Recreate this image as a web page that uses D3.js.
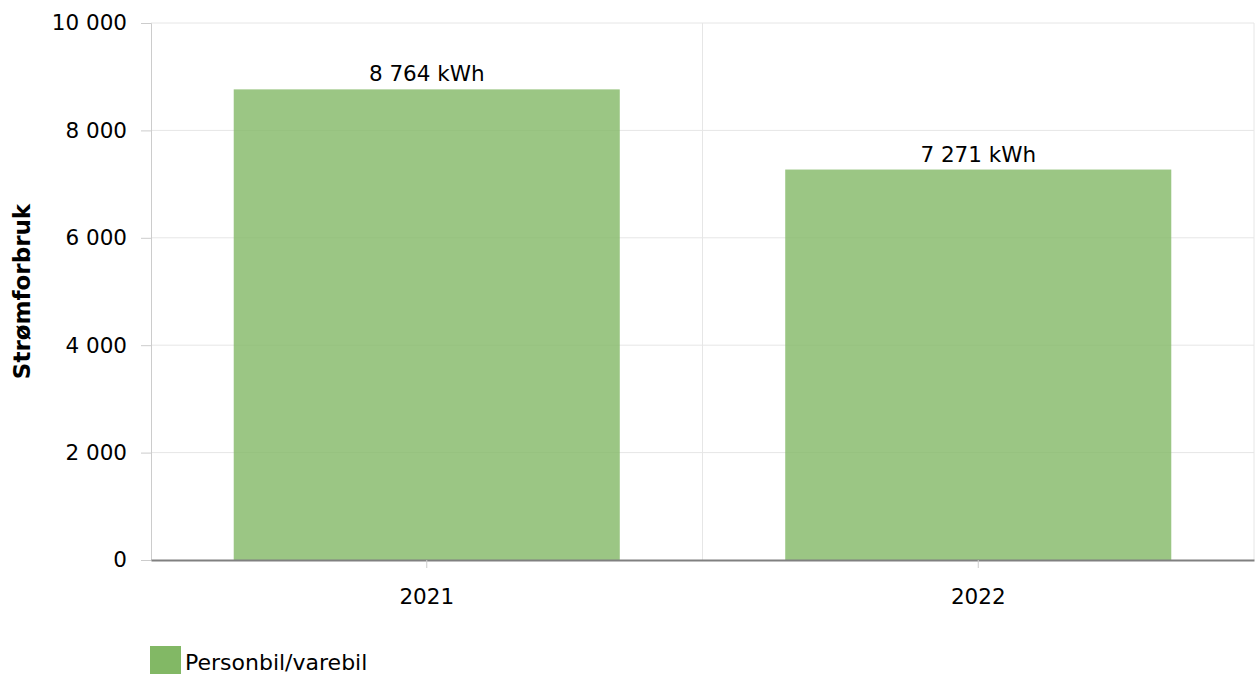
<!DOCTYPE html>
<html>
<head>
<meta charset="utf-8">
<style>
  body { margin: 0; background: #fff; }
  svg { font-family: "DejaVu Sans", Verdana, sans-serif; }
</style>
<script src="https://d3js.org/d3.v7.min.js"></script>
</head>
<body>
<svg width="1255" height="674"></svg>
<script>

var years = ["2021", "2022"];
var values = [8764, 7271];
var yTicks = [0, 2000, 4000, 6000, 8000, 10000];
var seriesName = "Personbil/varebil";
var yTitle = "Strømforbruk";

var svg = d3.select("svg"),
    margin = {top: 23, right: 1, bottom: 114, left: 151},
    width = +svg.attr("width") - margin.left - margin.right,
    height = +svg.attr("height") - margin.top - margin.bottom,
    g = svg.append("g").attr("transform", "translate(" + margin.left + "," + margin.top + ")");

var fs = 21.5;
var fmt = function(v) { return d3.format(",")(v).replace(/,/g, " "); };

var x = d3.scaleBand().domain(years).range([0, width]).paddingInner(0).paddingOuter(0);
var y = d3.scaleLinear().domain([0, 10000]).range([height, 0]);

// horizontal grid
g.selectAll(".hgrid")
  .data(yTicks.filter(function(d) { return d > 0; }))
  .enter().append("line")
    .attr("x1", 0).attr("x2", width)
    .attr("y1", function(d) { return y(d); })
    .attr("y2", function(d) { return y(d); })
    .attr("stroke", "#e6e6e6");

// vertical grid at category boundaries
g.selectAll(".vgrid")
  .data(years)
  .enter().append("line")
    .attr("x1", function(d) { return x(d) + x.bandwidth(); })
    .attr("x2", function(d) { return x(d) + x.bandwidth(); })
    .attr("y1", 0).attr("y2", height)
    .attr("stroke", "#e6e6e6");

// y axis
var yAxis = g.append("g")
  .call(d3.axisLeft(y).tickValues(yTicks).tickSize(10).tickPadding(14).tickFormat(fmt));
yAxis.select(".domain").attr("stroke", "#ccc");
yAxis.selectAll(".tick line").attr("stroke", "#ccc");
yAxis.selectAll("text").attr("font-size", fs).attr("fill", "#000")
  .attr("font-family", "DejaVu Sans, Verdana, sans-serif");

// bars
g.selectAll(".bar")
  .data(values)
  .enter().append("rect")
    .attr("x", function(d, i) { return x(years[i]) + x.bandwidth() * 0.15; })
    .attr("width", x.bandwidth() * 0.7)
    .attr("y", function(d) { return y(d); })
    .attr("height", function(d) { return height - y(d); })
    .attr("fill", "#82b865")
    .attr("fill-opacity", 0.8);

// value labels
g.selectAll(".lbl")
  .data(values)
  .enter().append("text")
    .attr("x", function(d, i) { return x(years[i]) + x.bandwidth() / 2; })
    .attr("y", function(d) { return y(d) - 8; })
    .attr("text-anchor", "middle")
    .attr("font-size", fs)
    .text(function(d) { return fmt(d) + " kWh"; });

// x axis
var xAxis = g.append("g")
  .attr("transform", "translate(0," + height + ")")
  .call(d3.axisBottom(x).tickSize(8).tickPadding(21).tickSizeOuter(0));
xAxis.select(".domain").attr("stroke", "#808080").attr("stroke-width", 2);
xAxis.selectAll(".tick line").attr("stroke", "#ccc");
xAxis.selectAll("text").attr("font-size", fs).attr("fill", "#000")
  .attr("font-family", "DejaVu Sans, Verdana, sans-serif");

// y title
svg.append("text")
  .attr("transform", "translate(30," + (margin.top + height / 2) + ") rotate(-90)")
  .attr("text-anchor", "middle")
  .attr("font-size", 23)
  .attr("font-weight", "bold")
  .text(yTitle);

// legend
var leg = svg.append("g").attr("transform", "translate(150,646)");
leg.append("rect").attr("width", 31).attr("height", 28).attr("fill", "#82b865");
leg.append("text").attr("x", 35).attr("y", 24).attr("font-size", 22).text(seriesName);

</script>
</body>
</html>
